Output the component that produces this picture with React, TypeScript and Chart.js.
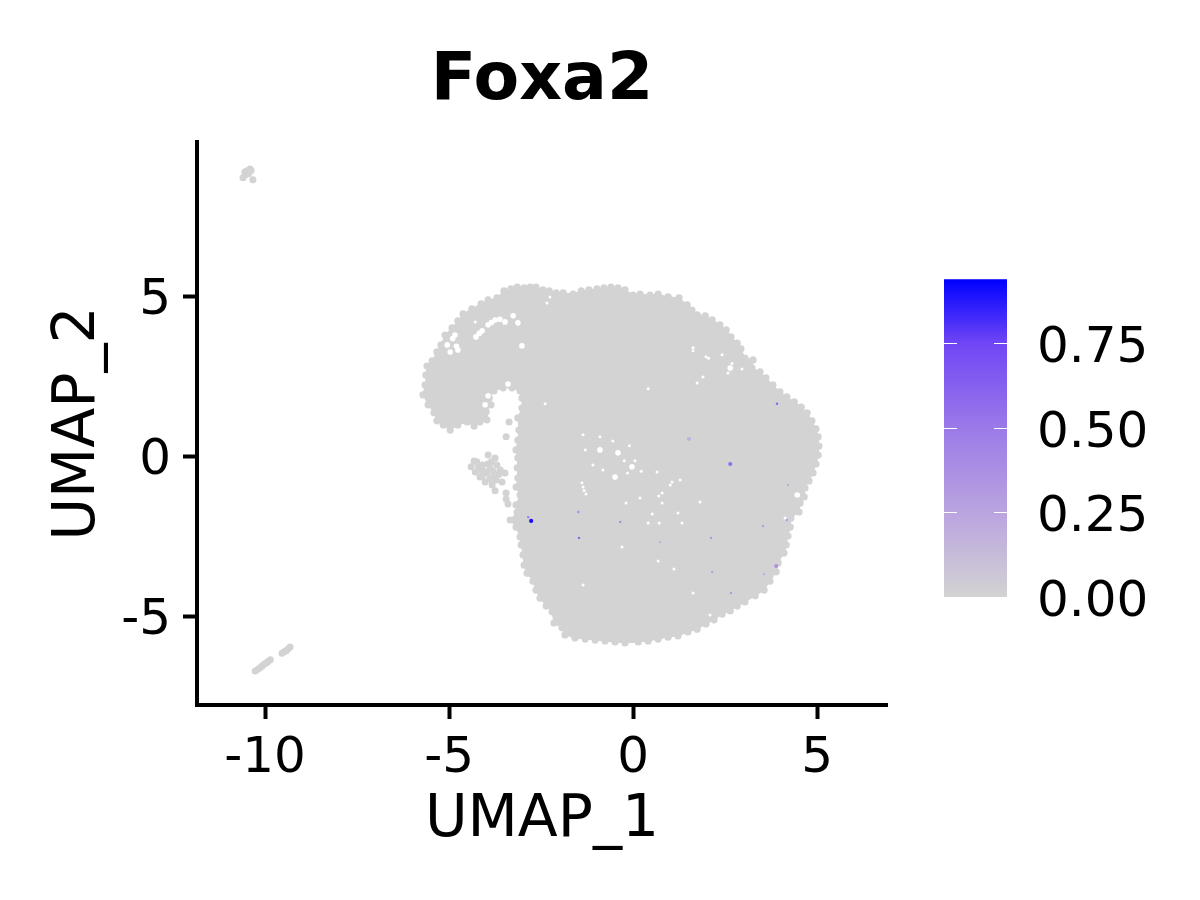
import React, { useEffect, useRef } from "react";
import { Chart, registerables } from "chart.js";

Chart.register(...registerables);

const titleText = "Foxa2";
const xAxisName = "UMAP_1";
const yAxisName = "UMAP_2";
const xTicks = [-10, -5, 0, 5];
const yTicks = [-5, 0, 5];
const legendTicks = [0, 0.25, 0.5, 0.75];
const legendMax = 0.94;

// outer ring of cells, walked round the main population
const edgeX = [
  -3.70, -3.51, -3.32, -3.15, -2.96, -2.80, -2.64, -2.45, -2.28, -2.09, -1.90, -1.63, -1.41, -1.20, -0.98, -0.79, -0.60, -0.41, -0.22, 0,
  0.19, 0.46, 0.68, 0.95, 1.25, 1.47, 1.60, 1.74, 1.96, 2.15, 2.36, 2.53, 2.66, 2.83, 2.93, 3.04, 3.26, 3.23, 3.45, 3.61,
  3.80, 3.99, 4.18, 4.38, 4.57, 4.73, 4.86, 4.97, 5.03, 5.05, 5.03, 4.97, 4.89, 4.78, 4.67, 4.65, 4.54, 4.51, 4.29, 4.27,
  4.21, 4.16, 4.10, 3.94, 3.89, 3.72, 3.56, 3.32, 3.04, 2.83, 2.64, 2.42, 2.20, 1.98, 1.74, 1.49, 1.22, 0.95, 0.68, 0.41,
  0.14, -0.22, -0.49, -0.76, -1.03, -1.30, -1.58, -1.85, -1.93, -2.15, -2.20, -2.36, -2.53, -2.64, -2.72, -2.88, -2.96, -2.99, -3.04, -3.07,
  -3.18, -3.34, -3.15, -3.18, -3.07, -3.18, -3.13, -3.15, -3.13, -3.18, -3.13, -3.10, -3.13, -3.02, -3.02, -3.07, -3.29, -3.53, -3.78, -3.91,
  -3.86, -3.99, -3.97, -4.16, -4.32, -4.51, -4.76, -4.97, -5.16, -5.33, -5.41, -5.57, -5.71, -5.65, -5.63, -5.60, -5.46, -5.33, -5.22, -5.11,
  -4.92, -4.76, -4.62, -4.38, -4.13, -3.94,
];
const edgeY = [
  4.97, 5.19, 5.25, 5.31, 5.28, 5.31, 5.31, 5.22, 5.19, 5.13, 5.13, 5.09, 5.19, 5.22, 5.25, 5.28, 5.31, 5.28, 5.22, 5.06,
  5.09, 5.06, 5.09, 5.00, 4.97, 4.75, 4.59, 4.44, 4.41, 4.28, 4.13, 3.97, 3.75, 3.56, 3.38, 3.09, 3.03, 2.78, 2.66, 2.47,
  2.25, 2.03, 1.88, 1.72, 1.56, 1.38, 1.13, 0.88, 0.63, 0.34, 0.06, -0.22, -0.50, -0.75, -0.97, -1.25, -1.44, -1.72, -1.91, -2.19,
  -2.47, -2.75, -3.00, -3.31, -3.59, -3.88, -4.16, -4.34, -4.53, -4.66, -4.81, -4.91, -5.09, -5.22, -5.38, -5.47, -5.59, -5.63, -5.69, -5.75,
  -5.78, -5.81, -5.78, -5.75, -5.72, -5.69, -5.66, -5.56, -5.34, -5.19, -4.84, -4.66, -4.41, -4.16, -3.88, -3.63, -3.38, -3.06, -2.75, -2.50,
  -2.19, -1.97, -1.72, -1.50, -1.19, -0.94, -0.66, -0.34, -0.03, 0.22, 0.53, 0.84, 1.22, 1.53, 1.84, 2.06, 2.16, 2.16, 2.06, 1.84,
  1.63, 1.41, 1.16, 1.09, 0.97, 1.09, 1.00, 0.84, 1.00, 1.13, 1.38, 1.63, 1.94, 2.25, 2.56, 2.84, 3.00, 3.28, 3.50, 3.81,
  4.03, 4.25, 4.47, 4.63, 4.78, 4.91,
];

// small satellite groups and stray cells
const strayX = [
  -4.32, -4.40, -4.29, -4.16, -4.02, -4.10, -3.94, -3.75, -3.70, -3.89, -3.61, -3.48, -3.56, -3.83, -3.97, -3.80, -4.16, -3.75, -3.45, -3.45,
  -3.40, -3.37, -3.45,
  -4.20, -4.05, -3.85, -3.95, -3.80, -3.65, -3.72, -3.90, -4.25, -4.10,
  -10.60, -10.54, -10.49, -10.41, -10.33, -10.55, -10.45, -10.38,
  -10.27, -10.19, -10.08, -9.97, -9.86, -9.54, -9.43, -9.32, -10.13, -10.03, -9.92, -9.48, -9.38,
];
const strayY = [
  -0.13, -0.31, -0.47, -0.63, -0.78, -0.25, 0.06, -0.03, -0.25, -0.34, -0.41, -0.50, -0.78, -0.88, -0.50, -0.63, -0.41, -1.06, -1.13, -1.31,
  -1.47, 1.09, 0.63,
  -0.30, -0.45, -0.15, -0.22, -0.45, -0.55, -0.72, -0.70, -0.15, -0.60,
  8.72, 8.81, 8.94, 9.00, 8.66, 8.90, 8.85, 8.95,
  -6.69, -6.63, -6.53, -6.44, -6.34, -6.13, -6.06, -5.94, -6.58, -6.48, -6.39, -6.09, -6.00,
];

// empty pockets inside the population
const wideGapX = [
  -4.27, -4.10, -3.94, -3.75, -3.48, -3.26, -3.13, -4.76, -4.97, -4.84, -5.05, -3.40, -3.94, -4.02, -3.02, -0.03, -0.41, -0.90, -0.49, 4.46, 2.64,
  -3.62, -3.85, -4.18, -4.90, -4.80,
];
const wideGapY = [
  3.75, 3.94, 4.13, 4.28, 4.22, 4.41, 4.19, 3.34, 3.28, 3.81, 3.50, 2.28, 1.91, 1.63, 3.47, -0.31, 0.13, 0.22, -0.63, -1.19, 2.78,
  4.30, 4.20, 3.86, 3.70, 3.46,
];
const thinGapX = [
  -2.26, -2.34, -4.29, -2.39, -1.36, -0.90, -1.30, -1.09, -0.82, -1.39, -1.36, 1.63, 2.42, 1.98, 2.96, 1.90, 1.74, 0.41, 1.01, 0.65,
  1.28, 0.19, -0.19, 0.79, 0.79, 1.22, 0.71, 0.52, 0.41, 1.33, 0.68, 1.11, 4.13, 1.63, -0.30, -1.36, 1.82, 2.09,
  -1.33, -1.28, -0.24, -0.15, 0.22, 1.06, 0.70, -0.55, -0.10, 0.05, 1.63, 2.69, 2.58, 2.05,
];
const thinGapY = [
  5.00, 4.81, 4.22, 1.66, 0.69, 0.63, 0.22, -0.25, -0.41, -0.81, -0.94, 3.41, 3.19, 3.13, 2.75, 2.50, 2.31, 2.13, -0.88, -0.47,
  -0.72, -1.28, -1.44, -1.13, -1.44, -1.75, -2.06, -1.78, -2.06, -2.06, -3.25, -3.50, -1.91, -4.25, -2.81, -4.00, -1.41, -4.94,
  -1.05, -1.16, -0.12, -0.50, -0.45, -0.78, -1.22, 0.50, 0.35, -0.12, 3.32, 2.92, 2.62, 3.08,
];

// cells that express Foxa2: those drawn broader, then the ones mostly hidden by neighbours
const broadX = [-2.77, 2.64, 1.52, 3.89];
const broadY = [-2.00, -0.22, 0.56, -3.41];
const broadValue = [0.9, 0.55, 0.18, 0.35];
const slimX = [-2.85, 3.91, 2.66, 0.73, -0.35, -1.49, -1.47, 2.12, 2.15, 3.53, 4.18, 4.21, 3.56];
const slimY = [-1.88, 1.66, -4.25, -2.66, -2.03, -1.72, -2.53, -2.53, -3.59, -2.16, -1.97, -0.88, -3.66];
const slimValue = [0.5, 0.6, 0.3, 0.2, 0.4, 0.4, 0.6, 0.35, 0.3, 0.3, 0.3, 0.2, 0.2];

const rampStops = [0, 0.25, 0.5, 0.75, 0.94];
const rampColors: number[][] = [
  [211, 211, 211],
  [186, 164, 224],
  [155, 122, 232],
  [112, 70, 246],
  [0, 0, 255],
];

const GREY = "#d3d3d3";
const FONT = "'DejaVu Sans'";

function pts(xs: number[], ys: number[]) {
  return xs.map((x, i) => ({ x, y: ys[i] }));
}

function rampColor(v: number) {
  let i = 0;
  while (i < rampStops.length - 2 && v > rampStops[i + 1]) i++;
  const t = Math.min(1, Math.max(0, (v - rampStops[i]) / (rampStops[i + 1] - rampStops[i])));
  const c = rampColors[i].map((a, k) => Math.round(a + (rampColors[i + 1][k] - a) * t));
  return `rgb(${c[0]},${c[1]},${c[2]})`;
}

const colorBar = {
  id: "colorBar",
  afterDraw(chart: any) {
    const s = chart.scales.legend;
    const { ctx } = chart;
    const left = 944;
    const right = 1007;
    const yTop = s.getPixelForValue(legendMax);
    const yBottom = s.getPixelForValue(0);
    const g = ctx.createLinearGradient(0, yBottom, 0, yTop);
    rampStops.forEach((v) => g.addColorStop(v / legendMax, rampColor(v)));
    ctx.save();
    ctx.fillStyle = g;
    ctx.fillRect(left, yTop, right - left, yBottom - yTop);
    ctx.strokeStyle = "#ffffff";
    ctx.lineWidth = 1;
    ctx.beginPath();
    legendTicks.forEach((v) => {
      const y = Math.round(s.getPixelForValue(v)) + 0.5;
      ctx.moveTo(left, y);
      ctx.lineTo(left + 13, y);
      ctx.moveTo(right - 13, y);
      ctx.lineTo(right, y);
    });
    ctx.stroke();
    ctx.restore();
  },
};

export default function App() {
  const ref = useRef<HTMLCanvasElement>(null);
  useEffect(() => {
    const chart = new Chart(ref.current!, {
      type: "line",
      plugins: [colorBar],
      data: {
        datasets: [
          {
            label: "expressing, broad",
            order: 0,
            data: broadX.map((x, i) => ({ x, y: broadY[i], v: broadValue[i] })),
            showLine: false,
            pointRadius: 2.1,
            pointBorderWidth: 0,
            pointBackgroundColor: (c: any) => rampColor(c.raw ? c.raw.v : 0),
          },
          {
            label: "expressing, slim",
            order: 0,
            data: slimX.map((x, i) => ({ x, y: slimY[i], v: slimValue[i] })),
            showLine: false,
            pointRadius: 1.2,
            pointBorderWidth: 0,
            pointBackgroundColor: (c: any) => rampColor(c.raw ? c.raw.v : 0),
          },
          {
            label: "thin gaps",
            order: 1,
            data: pts(thinGapX, thinGapY),
            showLine: false,
            pointRadius: 1.5,
            pointBorderWidth: 0,
            pointBackgroundColor: "#ffffff",
          },
          {
            label: "wide gaps",
            order: 2,
            data: pts(wideGapX, wideGapY),
            showLine: false,
            pointRadius: 2.8,
            pointBorderWidth: 0,
            pointBackgroundColor: "#ffffff",
          },
          {
            label: "strays",
            order: 3,
            data: pts(strayX, strayY),
            showLine: false,
            pointRadius: 3.5,
            pointBorderWidth: 0,
            pointBackgroundColor: GREY,
          },
          {
            label: "edge",
            order: 4,
            data: pts(edgeX, edgeY),
            showLine: false,
            pointRadius: 3.6,
            pointBorderWidth: 0,
            pointBackgroundColor: GREY,
          },
          {
            label: "body",
            order: 5,
            data: pts(edgeX, edgeY),
            showLine: true,
            tension: 0,
            fill: "shape",
            backgroundColor: GREY,
            borderColor: GREY,
            borderWidth: 1,
            pointRadius: 0,
          },
        ],
      } as any,
      options: {
        responsive: false,
        animation: false,
        devicePixelRatio: 1,
        layout: { padding: 0 },
        events: [],
        plugins: {
          legend: { display: false },
          tooltip: { enabled: false },
          title: {
            display: true,
            text: titleText,
            fullSize: false,
            color: "#000",
            font: { family: FONT, size: 66.5, weight: "bold", lineHeight: 1.2 },
            padding: { top: 42, bottom: 20.2 },
          },
        },
        scales: {
          x: {
            type: "linear",
            position: "bottom",
            min: -11.85,
            max: 6.9,
            afterFit(s: any) {
              s.height = 195;
              s.paddingLeft = 0;
              s.paddingRight = 0;
            },
            afterBuildTicks(s: any) {
              s.ticks = xTicks.map((value) => ({ value }));
            },
            border: { display: true, color: "#000", width: 4 },
            grid: { drawOnChartArea: false, drawTicks: true, tickLength: 14, tickColor: "#000", tickWidth: 4 },
            ticks: {
              color: "#000",
              padding: 10,
              maxRotation: 0,
              autoSkip: false,
              font: { family: FONT, size: 50 },
              callback: (v: any) => String(v),
            },
            title: {
              display: true,
              text: xAxisName,
              color: "#000",
              font: { family: FONT, size: 58.3, lineHeight: 1.2 },
              padding: { top: 0, bottom: 44 },
            },
          },
          y: {
            type: "linear",
            position: "left",
            min: -7.75,
            max: 9.84,
            afterFit(s: any) {
              s.width = 197;
              s.paddingTop = 0;
              s.paddingBottom = 0;
            },
            afterBuildTicks(s: any) {
              s.ticks = yTicks.map((value) => ({ value }));
            },
            border: { display: true, color: "#000", width: 4 },
            grid: { drawOnChartArea: false, drawTicks: true, tickLength: 14, tickColor: "#000", tickWidth: 4 },
            ticks: {
              color: "#000",
              padding: 12,
              labelOffset: 4,
              autoSkip: false,
              font: { family: FONT, size: 50 },
              callback: (v: any) => String(v),
            },
            title: {
              display: true,
              text: yAxisName,
              color: "#000",
              font: { family: FONT, size: 58.3, lineHeight: 1.2 },
              padding: { top: 44, bottom: 0 },
            },
          },
          legend: {
            type: "linear",
            axis: "y",
            position: "right",
            min: -0.3195,
            max: 1.346,
            afterFit(s: any) {
              s.width = 313;
              s.paddingTop = 0;
              s.paddingBottom = 0;
            },
            afterBuildTicks(s: any) {
              s.ticks = legendTicks.map((value) => ({ value }));
            },
            border: { display: false },
            grid: { display: false, drawTicks: false },
            ticks: {
              color: "#000",
              padding: 150,
              labelOffset: 6,
              autoSkip: false,
              font: { family: FONT, size: 50 },
              callback: (v: any) => Number(v).toFixed(2),
            },
          },
        },
      } as any,
    });
    return () => chart.destroy();
  }, []);
  return (
    <div style={{ position: "absolute", left: 0, top: 0, width: 1200, height: 900, background: "#fff" }}>
      <canvas ref={ref} width={1200} height={900} style={{ display: "block" }} />
    </div>
  );
}
